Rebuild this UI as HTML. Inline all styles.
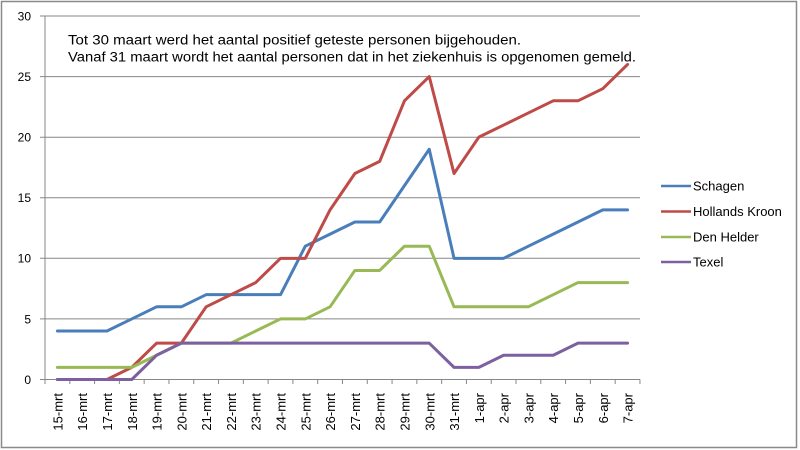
<!DOCTYPE html>
<html>
<head>
<meta charset="utf-8">
<style>
  html, body { margin: 0; padding: 0; background: #fff; }
  svg { display: block; }
  text { font-family: "Liberation Sans", Arial, sans-serif; fill: #000; }
</style>
</head>
<body>
<svg width="800" height="450" viewBox="0 0 800 450" xmlns="http://www.w3.org/2000/svg">
  <rect x="0" y="0" width="800" height="450" fill="#fff"/>
  <rect x="1.5" y="1.5" width="795" height="446" fill="none" stroke="#8a8a8a" stroke-width="1.5"/>

  <!-- gridlines -->
  <g stroke="#878787" stroke-width="1" fill="none">
    <line x1="40" y1="16" x2="640" y2="16"/>
    <line x1="40" y1="76.6" x2="640" y2="76.6"/>
    <line x1="40" y1="137.2" x2="640" y2="137.2"/>
    <line x1="40" y1="197.8" x2="640" y2="197.8"/>
    <line x1="40" y1="258.3" x2="640" y2="258.3"/>
    <line x1="40" y1="318.9" x2="640" y2="318.9"/>
    <line x1="40" y1="379.5" x2="640" y2="379.5"/>
    <!-- y axis -->
    <line x1="45" y1="16" x2="45" y2="379.5"/>
  </g>
  <!-- x ticks -->
  <g stroke="#878787" stroke-width="1">
    <line x1="45" y1="379.5" x2="45" y2="384"/>
    <line x1="69.79" y1="379.5" x2="69.79" y2="384"/>
    <line x1="94.58" y1="379.5" x2="94.58" y2="384"/>
    <line x1="119.37" y1="379.5" x2="119.37" y2="384"/>
    <line x1="144.16" y1="379.5" x2="144.16" y2="384"/>
    <line x1="168.95" y1="379.5" x2="168.95" y2="384"/>
    <line x1="193.74" y1="379.5" x2="193.74" y2="384"/>
    <line x1="218.53" y1="379.5" x2="218.53" y2="384"/>
    <line x1="243.32" y1="379.5" x2="243.32" y2="384"/>
    <line x1="268.11" y1="379.5" x2="268.11" y2="384"/>
    <line x1="292.9" y1="379.5" x2="292.9" y2="384"/>
    <line x1="317.69" y1="379.5" x2="317.69" y2="384"/>
    <line x1="342.48" y1="379.5" x2="342.48" y2="384"/>
    <line x1="367.27" y1="379.5" x2="367.27" y2="384"/>
    <line x1="392.06" y1="379.5" x2="392.06" y2="384"/>
    <line x1="416.85" y1="379.5" x2="416.85" y2="384"/>
    <line x1="441.64" y1="379.5" x2="441.64" y2="384"/>
    <line x1="466.43" y1="379.5" x2="466.43" y2="384"/>
    <line x1="491.22" y1="379.5" x2="491.22" y2="384"/>
    <line x1="516.01" y1="379.5" x2="516.01" y2="384"/>
    <line x1="540.8" y1="379.5" x2="540.8" y2="384"/>
    <line x1="565.59" y1="379.5" x2="565.59" y2="384"/>
    <line x1="590.38" y1="379.5" x2="590.38" y2="384"/>
    <line x1="615.17" y1="379.5" x2="615.17" y2="384"/>
    <line x1="639.96" y1="379.5" x2="639.96" y2="384"/>
  </g>

  <!-- y labels -->
  <g font-size="12" text-anchor="end">
    <text x="31" y="20.5">30</text>
    <text x="31" y="81">25</text>
    <text x="31" y="141.6">20</text>
    <text x="31" y="202.2">15</text>
    <text x="31" y="262.7">10</text>
    <text x="31" y="323.3">5</text>
    <text x="31" y="383.9">0</text>
  </g>

  <!-- x labels -->
  <g font-size="13" text-anchor="end">
    <text transform="translate(62.4,393) rotate(-90)">15-mrt</text>
    <text transform="translate(87.2,393) rotate(-90)">16-mrt</text>
    <text transform="translate(112,393) rotate(-90)">17-mrt</text>
    <text transform="translate(136.8,393) rotate(-90)">18-mrt</text>
    <text transform="translate(161.6,393) rotate(-90)">19-mrt</text>
    <text transform="translate(186.4,393) rotate(-90)">20-mrt</text>
    <text transform="translate(211.1,393) rotate(-90)">21-mrt</text>
    <text transform="translate(235.9,393) rotate(-90)">22-mrt</text>
    <text transform="translate(260.7,393) rotate(-90)">23-mrt</text>
    <text transform="translate(285.5,393) rotate(-90)">24-mrt</text>
    <text transform="translate(310.3,393) rotate(-90)">25-mrt</text>
    <text transform="translate(335.1,393) rotate(-90)">26-mrt</text>
    <text transform="translate(359.9,393) rotate(-90)">27-mrt</text>
    <text transform="translate(384.7,393) rotate(-90)">28-mrt</text>
    <text transform="translate(409.5,393) rotate(-90)">29-mrt</text>
    <text transform="translate(434.3,393) rotate(-90)">30-mrt</text>
    <text transform="translate(459,393) rotate(-90)">31-mrt</text>
    <text transform="translate(483.8,393) rotate(-90)">1-apr</text>
    <text transform="translate(508.6,393) rotate(-90)">2-apr</text>
    <text transform="translate(533.4,393) rotate(-90)">3-apr</text>
    <text transform="translate(558.2,393) rotate(-90)">4-apr</text>
    <text transform="translate(583,393) rotate(-90)">5-apr</text>
    <text transform="translate(607.8,393) rotate(-90)">6-apr</text>
    <text transform="translate(632.6,393) rotate(-90)">7-apr</text>
  </g>

  <!-- series -->
  <g transform="translate(57.4,379.5) scale(24.79,-12.117)" fill="none" stroke-width="3" stroke-linejoin="round" stroke-linecap="round">
    <polyline vector-effect="non-scaling-stroke" stroke="#4A7EBB"
      points="0,4 1,4 2,4 3,5 4,6 5,6 6,7 7,7 8,7 9,7 10,11 11,12 12,13 13,13 14,16 15,19 16,10 17,10 18,10 19,11 20,12 21,13 22,14 23,14"/>
    <polyline vector-effect="non-scaling-stroke" stroke="#BE4B48"
      points="0,0 1,0 2,0 3,1 4,3 5,3 6,6 7,7 8,8 9,10 10,10 11,14 12,17 13,18 14,23 15,25 16,17 17,20 18,21 19,22 20,23 21,23 22,24 23,26"/>
    <polyline vector-effect="non-scaling-stroke" stroke="#98B954"
      points="0,1 1,1 2,1 3,1 4,2 5,3 6,3 7,3 8,4 9,5 10,5 11,6 12,9 13,9 14,11 15,11 16,6 17,6 18,6 19,6 20,7 21,8 22,8 23,8"/>
    <polyline vector-effect="non-scaling-stroke" stroke="#7D60A0"
      points="0,0 1,0 2,0 3,0 4,2 5,3 6,3 7,3 8,3 9,3 10,3 11,3 12,3 13,3 14,3 15,3 16,1 17,1 18,2 19,2 20,2 21,3 22,3 23,3"/>
  </g>

  <!-- annotation -->
  <g font-size="13.5">
    <text x="68" y="44.5" textLength="453" lengthAdjust="spacingAndGlyphs">Tot 30 maart werd het aantal positief geteste personen bijgehouden.</text>
    <text x="68" y="61.5" textLength="568" lengthAdjust="spacingAndGlyphs">Vanaf 31 maart wordt het aantal personen dat in het ziekenhuis is opgenomen gemeld.</text>
  </g>

  <!-- legend -->
  <g stroke-width="2.5">
    <line x1="661" y1="186" x2="691" y2="186" stroke="#4A7EBB"/>
    <line x1="661" y1="211.5" x2="691" y2="211.5" stroke="#BE4B48"/>
    <line x1="661" y1="237" x2="691" y2="237" stroke="#98B954"/>
    <line x1="661" y1="262" x2="691" y2="262" stroke="#7D60A0"/>
  </g>
  <g font-size="13">
    <text x="693" y="190.5">Schagen</text>
    <text x="693" y="216">Hollands Kroon</text>
    <text x="693" y="241.5">Den Helder</text>
    <text x="693" y="266.5">Texel</text>
  </g>
</svg>
</body>
</html>
